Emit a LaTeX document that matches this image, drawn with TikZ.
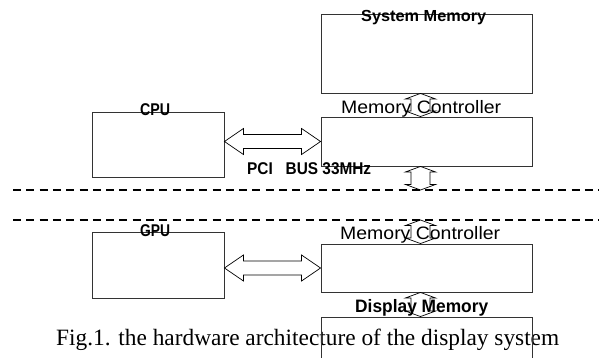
\documentclass[tikz,border=0pt]{standalone}
\usepackage{fontspec}
\usepackage{graphicx}
\setmainfont{Liberation Serif}
\newfontfamily\labfont[FakeStretch=0.78]{Liberation Sans}
\usetikzlibrary{calc}
\tikzset{
  box/.style={draw=black!80, line width=0.9pt, inner sep=0pt},
  lab/.style={inner sep=0pt, anchor=base west},
  blockarrow/.style={draw=black, line width=0.7pt, line join=miter},
  dashline/.style={draw=black, line width=1.2pt, dash pattern=on 8pt off 5.3pt}
}
\newcommand\hdbl[2]{%
  \draw[blockarrow] let \p1=(#1), \p2=(#2) in
  (\p1) -- (\x1+19pt,\y1+13pt) -- (\x1+19pt,\y1+7pt) -- (\x2-19pt,\y1+7pt) -- (\x2-19pt,\y1+13pt)
  -- (\p2) -- (\x2-19pt,\y1-13pt) -- (\x2-19pt,\y1-7pt) -- (\x1+19pt,\y1-7pt) -- (\x1+19pt,\y1-13pt) -- cycle;}
\newcommand\vdbl[2]{%
  \draw[blockarrow] let \p1=(#1), \p2=(#2) in
  (\p1) -- (\x1+15pt,\y1-5.5pt) -- (\x1+9.5pt,\y1-5.5pt) -- (\x1+9.5pt,\y2+5.5pt) -- (\x1+15pt,\y2+5.5pt)
  -- (\x1,\y2) -- (\x1-15pt,\y2+5.5pt) -- (\x1-9.5pt,\y2+5.5pt) -- (\x1-9.5pt,\y1-5.5pt) -- (\x1-15pt,\y1-5.5pt) -- cycle;}
\begin{document}
\begin{tikzpicture}[x=1pt, y=-1pt]
\useasboundingbox (0,0) rectangle (599,358);
\begin{scope}
\clip (0,0) rectangle (599,358);

% caption
\node[lab] (cap) at (56,345.5) {\fontsize{23.4}{24}\selectfont\resizebox{503pt}{\height}{Fig.1. the hardware architecture of the display system}};

% boxes
\node[box, minimum width=211pt, minimum height=79pt] (sm) at (426.5,53.5) {};
\node[box, minimum width=211pt, minimum height=49pt] (mc1) at (426.5,141.5) {};
\node[box, minimum width=132pt, minimum height=65pt] (cpu) at (158,144.5) {};
\node[box, minimum width=132pt, minimum height=66pt] (gpu) at (158,265) {};
\node[box, minimum width=211pt, minimum height=48pt] (mc2) at (426.5,268) {};
\node[box, minimum width=211pt, minimum height=61pt] (dm) at (426.5,347.5) {};

% labels
\node[lab] (lsm) at (361,21.5) {\labfont\bfseries\fontsize{16}{16}\selectfont\resizebox{125pt}{\height}{System Memory}};
\node[lab] (lmc1) at (341,113.5) {\labfont\fontsize{18}{18}\selectfont\resizebox{160pt}{\height}{Memory Controller}};
\node[lab] (lcpu) at (140,115.5) {\labfont\bfseries\fontsize{17}{17}\selectfont\resizebox{30pt}{\height}{CPU}};
\node[lab] (lpci) at (247,174.5) {\labfont\bfseries\fontsize{17}{17}\selectfont\resizebox{124pt}{\height}{PCI~~~BUS 33MHz}};
\node[lab] (lgpu) at (140,236.5) {\labfont\bfseries\fontsize{17}{17}\selectfont\resizebox{30pt}{\height}{GPU}};
\node[lab] (lmc2) at (340,239) {\labfont\fontsize{18}{18}\selectfont\resizebox{160pt}{\height}{Memory Controller}};
\node[lab] (ldm) at (355,312) {\labfont\bfseries\fontsize{18}{18}\selectfont\resizebox{133pt}{\height}{Display Memory}};

% dashed separators
\coordinate (d1a) at (13,190);
\coordinate (d1b) at (599,190);
\coordinate (d2a) at (13,220);
\coordinate (d2b) at (599,220);
\draw[dashline] (d1a) -- (d1b);
\draw[dashline] (d2a) -- (d2b);

% column of vertical arrows
\coordinate (vx) at (420.5,0);

% connectors
\hdbl{cpu.east |- mc1.west}{mc1.west}
\hdbl{gpu.east |- mc2.west}{mc2.west}
\vdbl{vx |- sm.south}{vx |- mc1.north}
\vdbl{vx |- mc1.south}{vx |- d1a}
\vdbl{vx |- d2a}{vx |- mc2.north}
\vdbl{vx |- mc2.south}{vx |- dm.north}
\end{scope}
\end{tikzpicture}
\end{document}
